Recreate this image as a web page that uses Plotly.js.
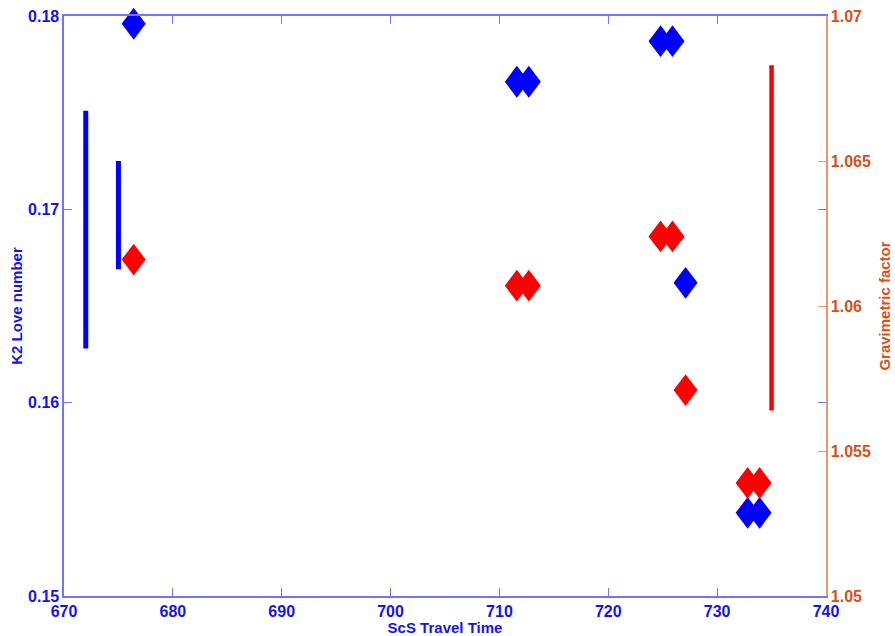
<!DOCTYPE html>
<html>
<head>
<meta charset="utf-8">
<script src="https://cdn.plot.ly/plotly-3.0.1.min.js"></script>
<style>
  html, body { margin: 0; padding: 0; background: #ffffff; }
  #chart { width: 895px; height: 636px; }
</style>
</head>
<body>
<div id="chart"></div>
<script>
// ScS travel time of each sample
var travelTime = [676.4, 711.6, 712.7, 724.8, 725.9, 727.1, 732.8, 733.9];
// K2 Love number (left axis)
var k2Love = [0.1796, 0.1766, 0.1766, 0.1787, 0.1787, 0.1662, 0.1543, 0.1543];
// Gravimetric factor (right axis)
var gravFactor = [1.0616, 1.0607, 1.0607, 1.0624, 1.0624, 1.0571, 1.0539, 1.0539];

// Vertical range bars for K2 (left axis)
var k2BarX = [672, 675];
var k2BarLow = [0.1628, 0.1669];
var k2BarHigh = [0.1751, 0.1725];

// Vertical range bar for gravimetric factor (right axis)
var gravBarX = [735];
var gravBarLow = [1.0564];
var gravBarHigh = [1.0683];

// Tick labels
var xTicks = [670, 680, 690, 700, 710, 720, 730, 740];
var k2Ticks = [0.15, 0.16, 0.17, 0.18];
var k2TickText = ['0.15', '0.16', '0.17', '0.18'];
var gravTicks = [1.05, 1.055, 1.06, 1.065, 1.07];
var gravTickText = ['1.05', '1.055', '1.06', '1.065', '1.07'];

var BLUE = '#0000ff';
var RED = '#ff0000';
var AXBLUE = '#7373ff';
var LABBLUE = '#1414f0';
var ORANGE = '#d6501a';
var AXORANGE = '#f0956a';
var FONT = 'Liberation Sans, Arial, Helvetica, sans-serif';

function segments(xs, lows, highs) {
  var x = [], y = [];
  for (var i = 0; i < xs.length; i++) {
    x.push(xs[i], xs[i], null);
    y.push(lows[i], highs[i], null);
  }
  return {x: x, y: y};
}

var k2Seg = segments(k2BarX, k2BarLow, k2BarHigh);
var gravSeg = segments(gravBarX, gravBarLow, gravBarHigh);

var traces = [
  {
    x: k2Seg.x, y: k2Seg.y, mode: 'lines', type: 'scatter',
    line: {color: BLUE, width: 5}, hoverinfo: 'skip', showlegend: false,
    xaxis: 'x', yaxis: 'y'
  },
  {
    x: travelTime, y: k2Love, mode: 'markers', type: 'scatter',
    marker: {symbol: 'diamond', size: 24, color: BLUE, line: {width: 0}},
    cliponaxis: false,
    showlegend: false, xaxis: 'x', yaxis: 'y'
  },
  {
    x: gravSeg.x, y: gravSeg.y, mode: 'lines', type: 'scatter',
    line: {color: RED, width: 4.5}, hoverinfo: 'skip', showlegend: false,
    xaxis: 'x', yaxis: 'y2'
  },
  {
    x: travelTime, y: gravFactor, mode: 'markers', type: 'scatter',
    marker: {symbol: 'diamond', size: 24, color: RED, line: {width: 0}},
    cliponaxis: false,
    showlegend: false, xaxis: 'x', yaxis: 'y2'
  }
];

var layout = {
  width: 895,
  height: 636,
  margin: {l: 64, r: 69, t: 16, b: 40, pad: 0},
  paper_bgcolor: '#ffffff',
  plot_bgcolor: '#ffffff',
  font: {family: FONT, size: 15, color: LABBLUE},
  showlegend: false,
  xaxis: {
    range: [670, 740],
    tickvals: xTicks,
    ticktext: xTicks.map(String),
    ticks: 'inside', ticklen: 8, tickwidth: 1, tickcolor: AXBLUE,
    showline: true, linecolor: AXBLUE, linewidth: 1.6,
    mirror: 'ticks',
    showgrid: false, zeroline: false,
    tickfont: {family: FONT, size: 16, color: LABBLUE, weight: 'bold'},
    title: {text: '<b>ScS Travel Time</b>', font: {family: FONT, size: 15, color: LABBLUE}, standoff: 2}
  },
  yaxis: {
    range: [0.15, 0.18],
    tickvals: k2Ticks,
    ticktext: k2TickText,
    ticks: 'inside', ticklen: 8, tickwidth: 1, tickcolor: AXBLUE,
    showline: true, linecolor: AXBLUE, linewidth: 1.6,
    mirror: 'ticks',
    showgrid: false, zeroline: false,
    tickfont: {family: FONT, size: 16, color: LABBLUE, weight: 'bold'},
    title: {text: '<b>K2 Love number</b>', font: {family: FONT, size: 15, color: LABBLUE}, standoff: 2}
  },
  yaxis2: {
    overlaying: 'y',
    side: 'right',
    range: [1.05, 1.07],
    tickvals: gravTicks,
    ticktext: gravTickText,
    ticks: 'inside', ticklen: 8, tickwidth: 1, tickcolor: AXORANGE,
    showline: true, linecolor: AXORANGE, linewidth: 1.6,
    showgrid: false, zeroline: false,
    tickfont: {family: FONT, size: 16, color: ORANGE, weight: 'bold'},
    title: {text: '<b>Gravimetric factor</b>', font: {family: FONT, size: 15, color: ORANGE}, standoff: 9}
  }
};

Plotly.newPlot('chart', traces, layout, {displayModeBar: false, staticPlot: true}).then(function () {
  // MATLAB diamonds are narrower than tall: reshape the library's own markers in place
  var pts = document.querySelectorAll('.scatterlayer .trace .points path.point');
  pts.forEach(function (p) {
    var t = p.getAttribute('transform') || '';
    p.setAttribute('transform', t + ' scale(0.77,1.02)');
  });
});
</script>
</body>
</html>
